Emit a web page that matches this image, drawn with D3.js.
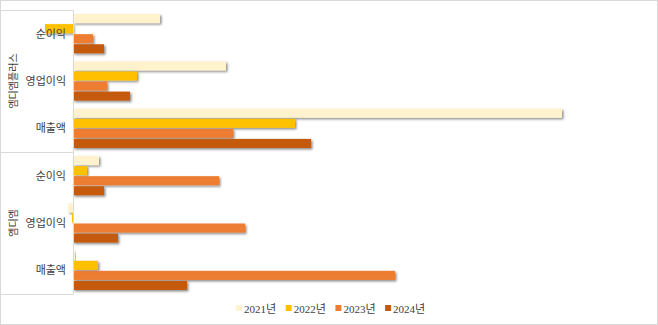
<!DOCTYPE html>
<html>
<head>
<meta charset="utf-8">
<script src="https://cdn.jsdelivr.net/npm/d3@7"></script>
<style>
  html, body { margin: 0; padding: 0; background: #fff; }
  svg text { font-family: "Liberation Serif", "Noto Sans CJK KR", serif; fill: #404040; }
</style>
</head>
<body>
<div id="chart"></div>
<script>
(function () {
  // Data (bar lengths in the chart's own units)
  const companies = ["엠디엠플러스", "엠디엠"];
  const metrics = ["순이익", "영업이익", "매출액"];
  const years = ["2021년", "2022년", "2023년", "2024년"];
  const colors = ["#FFF2CC", "#FFC000", "#ED7D31", "#C55A11"];

  // one array per company, rows follow metrics, columns follow years
  const mdmPlusValues = [
    [87, -28, 20, 31],
    [153, 64, 34, 57],
    [489, 222, 160, 238],
  ];
  const mdmValues = [
    [26, 14, 146, 31],
    [-5, -1, 172, 45],
    [2, 25, 322, 114],
  ];
  const valuesByCompany = [mdmPlusValues, mdmValues];

  const width = 658;
  const height = 325;
  const plot = { left: 73, top: 10, bottom: 294, right: 650 };

  const svg = d3.select("#chart")
    .append("svg")
    .attr("width", width)
    .attr("height", height);

  // drop shadow like the office chart bars
  const filter = svg.append("defs").append("filter")
    .attr("id", "shadow")
    .attr("x", "-10%").attr("y", "-30%")
    .attr("width", "130%").attr("height", "180%");
  filter.append("feDropShadow")
    .attr("dx", 1.5).attr("dy", 1.5)
    .attr("stdDeviation", 0.8)
    .attr("flood-color", "#000")
    .attr("flood-opacity", 0.45);

  // outer chart border
  svg.append("rect")
    .attr("x", 0.5).attr("y", 0.5)
    .attr("width", width - 1).attr("height", height - 1)
    .attr("fill", "none")
    .attr("stroke", "#d9d9d9");

  // flat list of category rows, top to bottom
  const rows = [];
  companies.forEach((c, ci) => {
    metrics.forEach((m, mi) => {
      rows.push({ key: c + "|" + m, company: c, metric: m, values: valuesByCompany[ci][mi] });
    });
  });

  const x = d3.scaleLinear()
    .domain([0, 585])
    .range([plot.left, plot.left + 585]);

  const y = d3.scaleBand()
    .domain(rows.map((d) => d.key))
    .range([plot.top, plot.bottom])
    .paddingInner(0.17)
    .paddingOuter(0.085);

  const ySub = d3.scaleBand()
    .domain(years)
    .range([0, y.bandwidth()])
    .paddingInner(0.1);

  // bars
  const rowG = svg.append("g")
    .selectAll("g")
    .data(rows)
    .join("g")
    .attr("transform", (d) => `translate(0,${y(d.key)})`);

  rowG.selectAll("rect")
    .data((d) => d.values.map((v, i) => ({ year: years[i], value: v, color: colors[i] })))
    .join("rect")
    .attr("x", (d) => Math.min(x(0), x(d.value)))
    .attr("y", (d) => ySub(d.year))
    .attr("width", (d) => Math.max(0.8, Math.abs(x(d.value) - x(0))))
    .attr("height", ySub.bandwidth())
    .attr("fill", (d) => d.color)
    .attr("filter", "url(#shadow)");

  // category axis line and group dividers
  const lineColor = "#d9d9d9";
  svg.append("line")
    .attr("x1", plot.left + 0.5).attr("x2", plot.left + 0.5)
    .attr("y1", plot.top).attr("y2", plot.bottom)
    .attr("stroke", lineColor);

  const groupEdges = [plot.top, (plot.top + plot.bottom) / 2, plot.bottom];
  svg.append("g")
    .selectAll("line")
    .data(groupEdges)
    .join("line")
    .attr("x1", 0).attr("x2", plot.left + 0.5)
    .attr("y1", (d) => Math.round(d) + 0.5)
    .attr("y2", (d) => Math.round(d) + 0.5)
    .attr("stroke", lineColor);

  // metric labels
  svg.append("g")
    .selectAll("text")
    .data(rows)
    .join("text")
    .attr("x", plot.left - 7)
    .attr("y", (d) => y(d.key) + y.bandwidth() / 2)
    .attr("dy", "0.35em")
    .attr("text-anchor", "end")
    .style("font-size", "11px")
    .text((d) => d.metric);

  // company labels, rotated
  const groupH = (plot.bottom - plot.top) / companies.length;
  svg.append("g")
    .selectAll("text")
    .data(companies)
    .join("text")
    .attr("transform", (d, i) => `translate(13,${plot.top + groupH * (i + 0.5)}) rotate(-90)`)
    .attr("text-anchor", "middle")
    .attr("dy", "0.35em")
    .style("font-size", "10px")
    .text((d) => d);

  // legend
  const legend = svg.append("g")
    .attr("transform", "translate(236,309)");
  const legendItem = legend.selectAll("g")
    .data(years)
    .join("g")
    .attr("transform", (d, i) => `translate(${i * 49.7},0)`);
  legendItem.append("rect")
    .attr("x", 0).attr("y", -4)
    .attr("width", 6).attr("height", 6)
    .attr("fill", (d, i) => colors[i]);
  legendItem.append("text")
    .attr("x", 8)
    .attr("y", 0)
    .attr("dy", "0.35em")
    .style("font-size", "11px")
    .text((d) => d);
})();
</script>
</body>
</html>
